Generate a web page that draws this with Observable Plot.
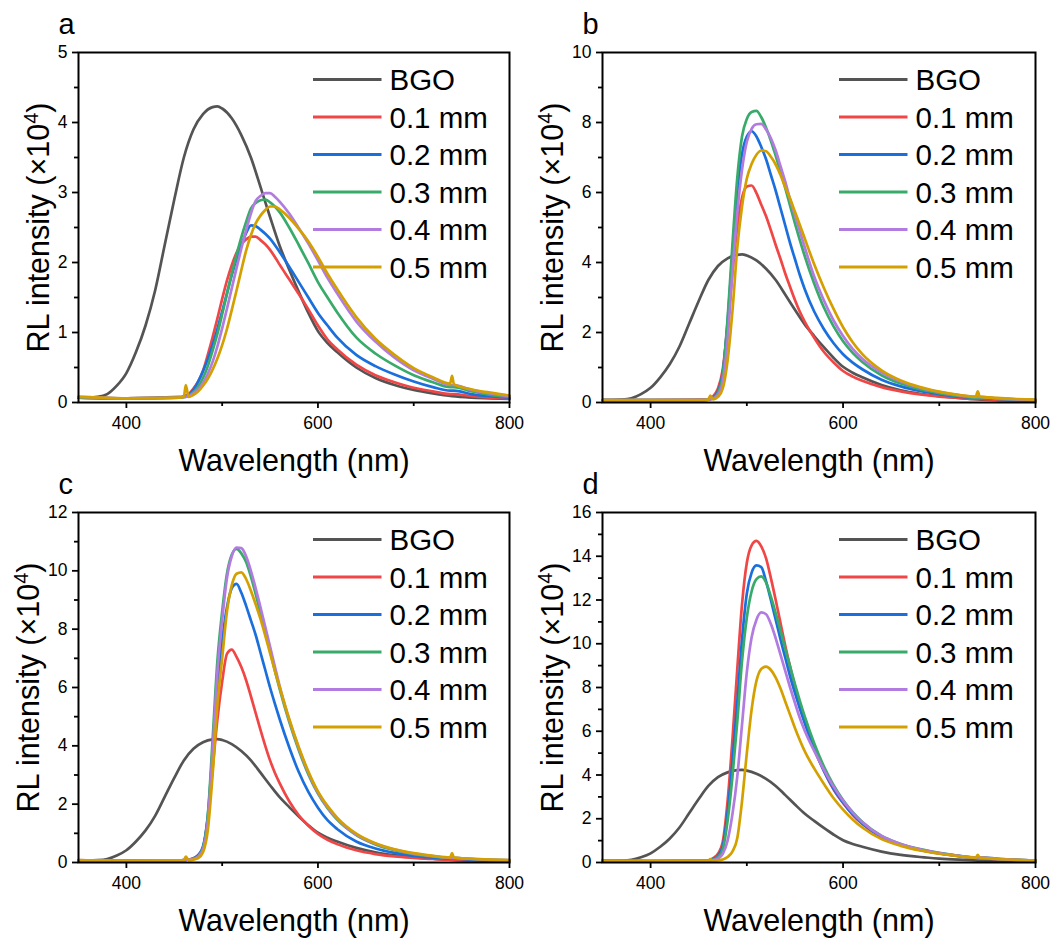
<!DOCTYPE html>
<html><head><meta charset="utf-8">
<script src="https://cdn.jsdelivr.net/npm/d3@7"></script>
<script src="https://cdn.jsdelivr.net/npm/@observablehq/plot@0.6"></script>
<style>
body{margin:0;background:#fff;}
#wrap{position:relative;width:1059px;height:940px;font-family:"Liberation Sans",Arial,sans-serif;}
#wrap svg{position:absolute;overflow:visible;}
</style></head><body><div id="wrap"></div>
<script>
// ---------- data ----------
const SERIES = ["BGO", "0.1 mm", "0.2 mm", "0.3 mm", "0.4 mm", "0.5 mm"];
const COLORS = ["#545454", "#F04646", "#1B6FDD", "#38AB6A", "#B27BDF", "#D4A000"];
const X_TITLE = "Wavelength (nm)";
const Y_TITLE = "RL intensity (×10⁴)";
const PANEL_LABELS = ["a", "b", "c", "d"];
const Y_MAX = [5, 10, 12, 16];
const Y_STEP = [1, 2, 2, 2];
const X_MAJOR = [400, 600, 800];
const X_MINOR = [500, 700];

// BGO reference (same in every panel)
const BGO_WL = [350,360,370,380,390,400,410,420,430,440,450,460,470,480,490,495,500,510,520,530,540,550,560,570,580,590,600,610,620,640,660,680,700,720,740,760,780,800];
const BGO    = [0.07,0.07,0.08,0.12,0.24,0.42,0.72,1.1,1.6,2.25,2.9,3.5,3.9,4.12,4.22,4.23,4.2,4.06,3.82,3.5,3.08,2.65,2.24,1.9,1.58,1.28,1.02,0.85,0.72,0.5,0.35,0.25,0.18,0.13,0.09,0.07,0.06,0.05];

// wavelength grid of the doped samples
const WL = [350,400,455,460,462,465,470,475,480,485,490,495,500,505,510,515,520,525,530,535,540,545,550,555,560,570,580,590,600,610,620,640,660,680,700,720,738,740,742,760,780,800];

// panel a
const A_01 = [0.07,0.06,0.08,0.09,0.1,0.12,0.2,0.3,0.45,0.68,0.93,1.2,1.48,1.74,1.96,2.14,2.26,2.33,2.37,2.37,2.32,2.26,2.18,2.08,1.97,1.76,1.55,1.33,1.1,0.9,0.76,0.54,0.39,0.29,0.21,0.16,0.12,0.12,0.12,0.09,0.07,0.06];
const A_02 = [0.07,0.06,0.07,0.08,0.09,0.11,0.18,0.3,0.45,0.62,0.82,1.05,1.3,1.56,1.82,2.05,2.25,2.42,2.53,2.52,2.47,2.41,2.34,2.25,2.15,1.94,1.72,1.5,1.28,1.1,0.93,0.68,0.52,0.4,0.3,0.22,0.17,0.17,0.17,0.12,0.09,0.07];
const A_03 = [0.07,0.06,0.07,0.08,0.08,0.1,0.15,0.23,0.35,0.52,0.74,0.98,1.26,1.55,1.84,2.11,2.36,2.58,2.77,2.85,2.89,2.9,2.86,2.8,2.72,2.5,2.25,1.99,1.72,1.5,1.29,0.93,0.7,0.53,0.39,0.29,0.22,0.22,0.22,0.16,0.11,0.08];
const A_04 = [0.08,0.06,0.07,0.08,0.08,0.09,0.13,0.19,0.28,0.41,0.58,0.8,1.06,1.34,1.63,1.92,2.2,2.46,2.7,2.88,2.95,2.99,2.99,2.94,2.87,2.7,2.49,2.27,2.03,1.78,1.56,1.16,0.87,0.64,0.46,0.34,0.25,0.25,0.25,0.18,0.13,0.09];
const A_05 = [0.08,0.06,0.07,0.08,0.25,0.08,0.11,0.16,0.24,0.34,0.47,0.63,0.82,1.05,1.32,1.6,1.89,2.17,2.39,2.56,2.67,2.75,2.8,2.8,2.76,2.64,2.48,2.3,2.08,1.84,1.62,1.22,0.91,0.68,0.49,0.36,0.27,0.38,0.26,0.19,0.14,0.1];

// panel b
const B_01 = [0.07,0.07,0.08,0.1,0.12,0.18,0.4,0.95,2.2,3.7,5.0,5.85,6.17,6.2,5.98,5.65,5.32,4.92,4.5,4.1,3.68,3.3,2.93,2.6,2.32,1.85,1.45,1.15,0.9,0.74,0.62,0.44,0.32,0.23,0.17,0.13,0.1,0.1,0.1,0.08,0.07,0.06];
const B_02 = [0.07,0.07,0.07,0.08,0.1,0.14,0.32,0.85,2.3,4.2,6.0,7.1,7.6,7.75,7.6,7.3,6.95,6.5,6.05,5.55,5.05,4.55,4.1,3.65,3.25,2.6,2.1,1.7,1.38,1.14,0.95,0.65,0.46,0.33,0.24,0.17,0.13,0.13,0.13,0.1,0.08,0.07];
const B_03 = [0.07,0.07,0.07,0.08,0.09,0.12,0.28,0.8,2.4,4.5,6.4,7.6,8.1,8.3,8.33,8.15,7.85,7.48,7.05,6.6,6.12,5.62,5.12,4.65,4.2,3.4,2.72,2.18,1.75,1.42,1.16,0.78,0.54,0.38,0.27,0.19,0.14,0.14,0.14,0.11,0.08,0.07];
const B_04 = [0.07,0.07,0.07,0.08,0.09,0.11,0.22,0.6,1.8,3.7,5.4,6.65,7.45,7.82,7.95,7.96,7.8,7.55,7.2,6.75,6.3,5.8,5.35,4.9,4.45,3.6,2.92,2.35,1.9,1.53,1.25,0.86,0.6,0.42,0.3,0.21,0.16,0.16,0.16,0.12,0.09,0.07];
const B_05 = [0.07,0.07,0.07,0.08,0.2,0.09,0.16,0.4,1.2,2.6,4.4,5.6,6.4,6.82,7.08,7.2,7.18,7.02,6.8,6.5,6.15,5.82,5.45,5.08,4.7,3.95,3.28,2.68,2.15,1.72,1.38,0.92,0.63,0.44,0.31,0.22,0.17,0.32,0.17,0.13,0.1,0.08];

// panel c
const C_01 = [0.07,0.06,0.07,0.08,0.09,0.1,0.15,0.25,0.5,1.5,3.2,4.9,6.2,7.15,7.3,7.05,6.7,6.25,5.7,5.12,4.55,4.0,3.5,3.08,2.72,2.1,1.62,1.26,0.98,0.78,0.63,0.42,0.29,0.21,0.16,0.12,0.1,0.1,0.1,0.08,0.07,0.06];
const C_02 = [0.07,0.06,0.07,0.08,0.09,0.1,0.14,0.25,0.55,1.6,3.8,6.0,7.6,8.75,9.4,9.55,9.25,8.8,8.3,7.8,7.2,6.6,6.0,5.45,4.92,3.95,3.1,2.42,1.88,1.45,1.15,0.72,0.48,0.33,0.23,0.17,0.13,0.13,0.13,0.1,0.08,0.07];
const C_03 = [0.07,0.06,0.07,0.08,0.09,0.1,0.13,0.22,0.5,1.6,4.2,6.9,8.6,9.9,10.55,10.75,10.6,10.3,9.8,9.2,8.55,7.9,7.25,6.58,5.95,4.82,3.85,3.02,2.36,1.86,1.47,0.94,0.62,0.42,0.29,0.21,0.16,0.16,0.16,0.12,0.09,0.07];
const C_04 = [0.08,0.06,0.07,0.08,0.09,0.1,0.12,0.2,0.45,1.4,3.8,6.5,8.3,9.75,10.5,10.8,10.78,10.5,10.0,9.4,8.75,8.08,7.4,6.72,6.05,4.9,3.92,3.08,2.4,1.9,1.5,0.96,0.64,0.44,0.3,0.22,0.16,0.16,0.16,0.12,0.09,0.08];
const C_05 = [0.08,0.06,0.07,0.08,0.2,0.08,0.1,0.15,0.35,1.1,3.0,5.4,7.0,8.6,9.5,9.9,9.95,9.72,9.32,8.85,8.35,7.78,7.18,6.58,6.02,4.92,3.95,3.12,2.44,1.94,1.54,0.99,0.66,0.45,0.32,0.23,0.17,0.32,0.17,0.13,0.1,0.08];

// panel d
const D_01 = [0.07,0.06,0.07,0.1,0.12,0.2,0.4,0.95,2.8,5.6,8.8,11.8,13.7,14.5,14.7,14.45,13.9,13.0,12.0,10.95,9.9,8.95,8.05,7.2,6.45,5.2,4.2,3.35,2.72,2.18,1.76,1.15,0.8,0.57,0.41,0.29,0.21,0.21,0.21,0.15,0.11,0.09];
const D_02 = [0.07,0.06,0.07,0.09,0.1,0.15,0.3,0.75,2.3,4.6,7.3,10.2,12.3,13.25,13.58,13.5,12.85,12.0,11.1,10.2,9.35,8.5,7.75,7.05,6.4,5.2,4.2,3.38,2.74,2.2,1.78,1.17,0.82,0.58,0.42,0.3,0.22,0.22,0.22,0.16,0.12,0.09];
const D_03 = [0.07,0.06,0.07,0.08,0.1,0.13,0.25,0.6,1.9,3.9,6.4,9.2,11.2,12.4,12.95,13.08,12.8,12.15,11.4,10.6,9.75,8.95,8.15,7.4,6.7,5.45,4.4,3.55,2.86,2.3,1.85,1.22,0.85,0.61,0.44,0.31,0.23,0.23,0.23,0.17,0.12,0.09];
const D_04 = [0.07,0.06,0.07,0.08,0.09,0.11,0.18,0.4,1.0,2.2,3.9,6.3,8.7,10.3,11.1,11.43,11.35,10.9,10.25,9.5,8.75,8.0,7.3,6.62,6.05,5.1,4.25,3.48,2.82,2.28,1.84,1.21,0.85,0.6,0.43,0.31,0.23,0.23,0.23,0.17,0.12,0.09];
const D_05 = [0.07,0.06,0.07,0.08,0.15,0.08,0.1,0.14,0.25,0.5,1.1,2.8,5.0,7.0,8.3,8.85,8.95,8.8,8.45,7.95,7.35,6.75,6.15,5.6,5.1,4.3,3.6,2.95,2.42,1.97,1.6,1.07,0.76,0.55,0.4,0.29,0.22,0.35,0.22,0.16,0.12,0.09];

const PANEL_SERIES = [
  [A_01, A_02, A_03, A_04, A_05],
  [B_01, B_02, B_03, B_04, B_05],
  [C_01, C_02, C_03, C_04, C_05],
  [D_01, D_02, D_03, D_04, D_05]
];

// ---------- layout ----------
const FONT = '"Liberation Sans", Arial, Helvetica, sans-serif';
const W = 530, H = 480;
const LAYOUT = [
  {left: 0,   top: 0,   mr: 21, yDx: -30},
  {left: 524, top: 0,   mr: 19, yDx: -40},
  {left: 0,   top: 460, mr: 21, yDx: -40},
  {left: 524, top: 460, mr: 19, yDx: -40}
];
const ML = 78, MT = 52, MB = 78;
const fmt = d => String(d);

const wrap = document.getElementById("wrap");

PANEL_LABELS.forEach((lab, p) => {
  const L = LAYOUT[p];
  const data = [];
  BGO_WL.forEach((w, i) => data.push({w, v: BGO[i], s: SERIES[0]}));
  PANEL_SERIES[p].forEach((arr, k) => WL.forEach((w, i) => data.push({w, v: arr[i], s: SERIES[k + 1]})));

  const ymax = Y_MAX[p], step = Y_STEP[p];
  const yMajor = d3.range(0, ymax + 1e-9, step);
  const yMinor = d3.range(step / 2, ymax, step);

  const svg = Plot.plot({
    width: W, height: H,
    marginLeft: ML, marginRight: L.mr, marginTop: MT, marginBottom: MB,
    style: {background: "none", fontFamily: FONT, overflow: "visible", color: "#000"},
    x: {domain: [350, 800]},
    y: {domain: [0, ymax]},
    color: {domain: SERIES, range: COLORS},
    marks: [
      Plot.line(data, {x: "w", y: "v", z: "s", stroke: "s", strokeWidth: 2.7, curve: "monotone-x"}),
      Plot.frame({stroke: "#000", strokeWidth: 2}),
      Plot.axisX(X_MAJOR, {tickSize: 6, tickPadding: 8, fontSize: 17.5, strokeWidth: 1.8, label: null, tickFormat: fmt}),
      Plot.axisX(X_MINOR, {tickSize: 4, tickFormat: () => "", strokeWidth: 1.8, label: null}),
      Plot.axisY(yMajor, {tickSize: 6, tickPadding: 5, fontSize: 17.5, strokeWidth: 1.8, label: null, tickFormat: fmt}),
      Plot.axisY(yMinor, {tickSize: 4, tickFormat: () => "", strokeWidth: 1.8, label: null}),
      Plot.text([lab], {text: d => d, frameAnchor: "top-left", dx: -20, dy: -19, fontSize: 29, textAnchor: "start", lineAnchor: "bottom"}),
      Plot.text([X_TITLE], {text: d => d, frameAnchor: "bottom", dy: 68, fontSize: 30.5, lineAnchor: "bottom"}),
      Plot.text([Y_TITLE], {text: d => d, frameAnchor: "left", dx: L.yDx, rotate: -90, fontSize: 30.5, textAnchor: "middle", lineAnchor: "bottom"})
    ]
  });

  // render the exponent of the y title as a raised, smaller "4"
  d3.select(svg).selectAll("text").filter(function() { return this.textContent === Y_TITLE; })
    .each(function() {
      const t = d3.select(this);
      t.text(null);
      t.append("tspan").text(Y_TITLE.slice(0, Y_TITLE.indexOf("⁴")));
      t.append("tspan").attr("font-size", 20).attr("dy", -11).text("4");
      t.append("tspan").attr("dy", 11).text(")");
    });

  // legend inside the frame, top-right
  const frameRight = W - L.mr;
  const g = d3.select(svg).append("g")
    .attr("transform", `translate(${frameRight - 196},${MT + 27.5})`)
    .attr("font-family", FONT)
    .attr("text-anchor", "start");
  SERIES.forEach((s, i) => {
    g.append("line").attr("x1", 0).attr("x2", 68.5).attr("y1", i * 37.5).attr("y2", i * 37.5)
      .attr("stroke", COLORS[i]).attr("stroke-width", 3);
    g.append("text").attr("x", 76.5).attr("y", i * 37.5).attr("dy", "0.36em")
      .attr("text-anchor", "start").attr("font-size", 29.5).attr("fill", "#000").text(s);
  });

  svg.style.left = L.left + "px";
  svg.style.top = L.top + "px";
  wrap.appendChild(svg);
});
</script>
</body></html>
